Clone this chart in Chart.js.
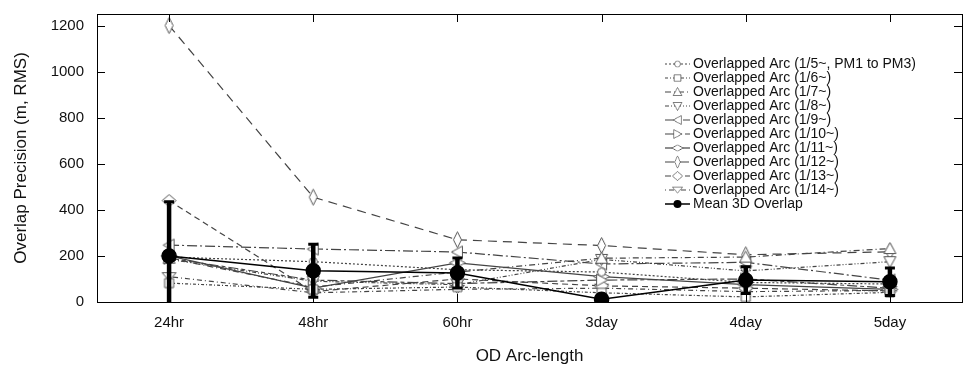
<!DOCTYPE html>
<html>
<head>
<meta charset="utf-8">
<script src="https://cdn.jsdelivr.net/npm/chart.js@4.4.1/dist/chart.umd.min.js"></script>
<style>
  html, body { margin: 0; padding: 0; background: #fff; }
  #wrap { width: 975px; height: 371px; }
</style>
</head>
<body>
<div id="wrap"><canvas id="overlapChart" width="975" height="371"></canvas></div>
<script>
// categories and tick values
var arcLabels = ['24hr', '48hr', '60hr', '3day', '4day', '5day'];
var yTicks = [0, 200, 400, 600, 800, 1000, 1200];

// overlap precision per arc (m, RMS)
var arc0105 = [195, 175, 140, 130, 85, 78];
var arc0106 = [82, 55, 65, 40, 22, 42];
var arc0107 = [190, 65, 130, 190, 195, 232];
var arc0108 = [185, 90, 75, 185, 135, 175];
var arc0109 = [247, 230, 217, 165, 172, 95];
var arc0110 = [190, 95, 80, 95, 100, 60];
var arc0111 = [200, 60, 170, 110, 75, 55];
var arc0112 = [1200, 455, 270, 245, 205, 218];
var arc0113 = [440, 45, 100, 70, 60, 48];
var arc0114 = [110, 40, 55, 60, 45, 50];
var meanOverlap = [200, 136, 126, 12, 95, 88];
var meanError = [235, 115, 65, 0, 58, 60];

var arcNames = [
  'Overlapped Arc (1/5~, PM1 to PM3)', 'Overlapped Arc (1/6~)', 'Overlapped Arc (1/7~)',
  'Overlapped Arc (1/8~)', 'Overlapped Arc (1/9~)', 'Overlapped Arc (1/10~)',
  'Overlapped Arc (1/11~)', 'Overlapped Arc (1/12~)', 'Overlapped Arc (1/13~)',
  'Overlapped Arc (1/14~)'
];
var arcSeries = [arc0105, arc0106, arc0107, arc0108, arc0109, arc0110, arc0111, arc0112, arc0113, arc0114];

// line styles / marker shapes per arc
var arcDashes = [[2, 2], [3, 2, 1, 2], [6, 3, 1, 3], [4, 2, 1, 2, 1, 2], [10, 3, 2, 3],
  [10, 3, 4, 3], [], [9, 6], [6, 4], [1, 3, 5, 3]];
var arcMarkers = ['circle', 'square', 'triUp', 'triDown', 'triLeft', 'triRight',
  'diamondFlat', 'diamondThin', 'diamond', 'triDownWide'];

var shapes = {
  square: [[-4.5, -4.5], [4.5, -4.5], [4.5, 4.5], [-4.5, 4.5]],
  triUp: [[0, -6], [6, 5], [-6, 5]],
  triDown: [[0, 6], [6, -5], [-6, -5]],
  triLeft: [[-6, 0], [5, -6], [5, 6]],
  triRight: [[6, 0], [-5, -6], [-5, 6]],
  diamondFlat: [[-8, 0], [0, -4], [8, 0], [0, 4]],
  diamondThin: [[0, -8], [4, 0], [0, 8], [-4, 0]],
  diamond: [[-7, 0], [0, -6], [7, 0], [0, 6]],
  triDownWide: [[-7, -4], [7, -4], [0, 4]]
};

function makeMarker(kind) {
  var c = document.createElement('canvas');
  c.width = 19; c.height = 19;
  var g = c.getContext('2d');
  g.translate(9.5, 9.5);
  g.beginPath();
  if (kind === 'circle') {
    g.arc(0, 0, 4, 0, Math.PI * 2);
  } else {
    shapes[kind].forEach(function(p, i) {
      if (i === 0) g.moveTo(p[0], p[1]); else g.lineTo(p[0], p[1]);
    });
    g.closePath();
  }
  g.fillStyle = '#fff';
  g.fill();
  g.strokeStyle = '#555';
  g.lineWidth = 1;
  g.stroke();
  return c;
}

var datasets = arcSeries.map(function(vals, i) {
  return {
    label: arcNames[i],
    data: vals,
    borderColor: '#444',
    borderWidth: 1.2,
    borderDash: arcDashes[i],
    pointStyle: makeMarker(arcMarkers[i]),
    pointRadius: 6,
    fill: false,
    tension: 0
  };
});
datasets.push({
  label: 'Mean 3D Overlap',
  data: meanOverlap,
  errors: meanError,
  borderColor: '#000',
  borderWidth: 1.5,
  pointStyle: 'circle',
  pointRadius: 7,
  pointBackgroundColor: '#000',
  pointBorderColor: '#000',
  fill: false,
  order: -1
});

var FONT = '"Liberation Sans", Arial, Helvetica, sans-serif';

var framePlugin = {
  id: 'frame',
  beforeDatasetDraw: function(chart, args) {
    var ds = chart.data.datasets[args.index];
    if (!ds.errors) return;
    var ctx = chart.ctx, xs = chart.scales.x, ys = chart.scales.y, area = chart.chartArea;
    ctx.save();
    ctx.beginPath();
    ctx.rect(area.left, area.top, area.right - area.left, area.bottom - area.top);
    ctx.clip();
    ctx.strokeStyle = '#000';
    ds.data.forEach(function(v, i) {
      var e = ds.errors[i];
      if (!e) return;
      var x = xs.getPixelForValue(i);
      var yt = ys.getPixelForValue(v + e), yb = ys.getPixelForValue(v - e);
      ctx.lineWidth = 4.5;
      ctx.beginPath(); ctx.moveTo(x, yt); ctx.lineTo(x, yb); ctx.stroke();
      ctx.lineWidth = 3;
      ctx.beginPath();
      ctx.moveTo(x - 5, yt); ctx.lineTo(x + 5, yt);
      ctx.moveTo(x - 5, yb); ctx.lineTo(x + 5, yb);
      ctx.stroke();
    });
    ctx.restore();
  },
  afterDraw: function(chart) {
    var ctx = chart.ctx, a = chart.chartArea, xs = chart.scales.x, ys = chart.scales.y;
    ctx.save();
    ctx.strokeStyle = '#000';
    ctx.lineWidth = 1;
    ctx.setLineDash([]);
    ctx.strokeRect(Math.round(a.left) + 0.5, Math.round(a.top) + 0.5,
      Math.round(a.right - a.left), Math.round(a.bottom - a.top));
    ctx.beginPath();
    ys.ticks.forEach(function(t) {
      var y = Math.round(ys.getPixelForValue(t.value)) + 0.5;
      ctx.moveTo(a.left, y); ctx.lineTo(a.left + 8, y);
      ctx.moveTo(a.right, y); ctx.lineTo(a.right - 8, y);
    });
    arcLabels.forEach(function(l, i) {
      var x = Math.round(xs.getPixelForValue(i)) + 0.5;
      ctx.moveTo(x, a.bottom); ctx.lineTo(x, a.bottom - 8);
      ctx.moveTo(x, a.top); ctx.lineTo(x, a.top + 8);
    });
    ctx.stroke();

    // legend: line sample + marker + label
    var lx0 = a.right - 297, lx1 = a.right - 272, tx = a.right - 269, ly = a.top + 50;
    ctx.font = '14px ' + FONT;
    ctx.textBaseline = 'middle';
    chart.data.datasets.forEach(function(ds, i) {
      var y = ly + i * 14;
      ctx.strokeStyle = ds.borderColor;
      ctx.lineWidth = ds.borderWidth;
      ctx.setLineDash(ds.borderDash || []);
      ctx.beginPath(); ctx.moveTo(lx0, y); ctx.lineTo(lx1, y); ctx.stroke();
      ctx.setLineDash([]);
      var mx = (lx0 + lx1) / 2;
      if (typeof ds.pointStyle === 'string') {
        ctx.fillStyle = '#000';
        ctx.beginPath(); ctx.arc(mx, y, 4, 0, Math.PI * 2); ctx.fill();
      } else {
        ctx.drawImage(ds.pointStyle, mx - 7, y - 7, 14, 14);
      }
      ctx.fillStyle = '#111';
      ctx.fillText(ds.label, tx, y);
    });
    ctx.restore();
  }
};

new Chart(document.getElementById('overlapChart'), {
  type: 'line',
  data: { labels: arcLabels, datasets: datasets },
  plugins: [framePlugin],
  options: {
    responsive: false,
    animation: false,
    devicePixelRatio: 1,
    layout: { padding: { top: 14, right: 13, left: 0, bottom: 0 } },
    plugins: { legend: { display: false }, tooltip: { enabled: false } },
    scales: {
      x: {
        offset: true,
        grid: { display: false },
        border: { display: false },
        ticks: { color: '#111', font: { size: 15, family: FONT }, padding: 4 },
        title: { display: true, text: 'OD Arc-length', color: '#111', font: { size: 17, family: FONT }, padding: { top: 8 } },
        afterFit: function(s) { s.height = 69; }
      },
      y: {
        min: 0,
        max: 1250,
        grid: { display: false },
        border: { display: false },
        afterBuildTicks: function(s) { s.ticks = yTicks.map(function(v) { return { value: v }; }); },
        ticks: {
          color: '#111', font: { size: 15, family: FONT }, padding: 5,
          callback: function(v) { return String(v); }
        },
        title: { display: true, text: 'Overlap Precision (m, RMS)', color: '#111', font: { size: 17, family: FONT }, padding: { top: 11 } },
        afterFit: function(s) { s.width = 97; }
      }
    }
  }
});
</script>
</body>
</html>
